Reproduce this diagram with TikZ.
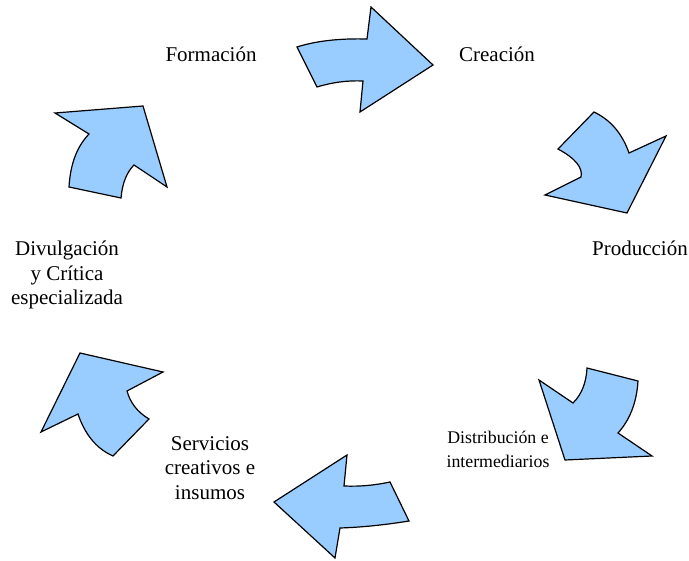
\documentclass[tikz,border=0pt]{standalone}
\usepackage{fontspec}
\setmainfont{Liberation Serif}
\usepackage{tikz}
\definecolor{celeste}{RGB}{153,204,255}
\tikzset{flecha/.style={draw=black, fill=celeste, line width=1.2pt, line join=miter},
%labels
etiqueta/.style={align=center, inner sep=0pt, font=\fontsize{21}{24.5}\selectfont},
etiquetachica/.style={etiqueta, font=\fontsize{17.8}{24}\selectfont}}

\begin{document}
\begin{tikzpicture}[x=1pt,y=-1pt]
\useasboundingbox (0,0) rectangle (689,561);

% arrows, clockwise from the top
\draw[flecha] (297,47) .. controls (315.7,41) and (339,38.3) .. (367,39) -- (371,7) -- (433,65)
  -- (360,112) -- (363,81) .. controls (347.7,80.3) and (332.3,82.3) .. (317,87) -- cycle;
\draw[flecha] (594,112) .. controls (610.7,120) and (622.3,133.7) .. (629,153) -- (666,136)
  -- (627,213) -- (545,195) -- (581,177) .. controls (583,167.7) and (575.3,158.3) .. (558,149) -- cycle;
\draw[flecha] (587,368) -- (638,381) .. controls (636.7,402.3) and (630,419.7) .. (618,433)
  -- (652,456) -- (565,460) -- (539,380) -- (573,403) .. controls (581.7,394.3) and (586.3,382.7) .. (587,368) -- cycle;
\draw[flecha] (347,455) -- (344,486) .. controls (359.3,486.7) and (374.7,485.3) .. (390,482) -- (409,521)
  .. controls (384.3,525) and (361.3,527.3) .. (340,528) -- (335,558) -- (274,502) -- cycle;
\draw[flecha] (80,353) -- (163,372) -- (127,391) .. controls (130.3,403) and (137.7,412.3) .. (149,419)
  -- (113,456) .. controls (96.3,448.7) and (84.7,434) .. (78,414) -- (41,432) -- cycle;
\draw[flecha] (55,113) -- (143,106) -- (167,187) -- (134,165) .. controls (126.7,172.3) and (122.3,183.3) .. (121,198)
  -- (69,187) .. controls (70.3,165) and (76.3,147.3) .. (89,134) -- cycle;

%labels
\node[etiqueta, anchor=base] (formacion) at (211,62) {Formación};
\node[etiqueta, anchor=base] (creacion) at (497,62) {Creación};
\node[etiqueta, anchor=base] (produccion) at (640,256) {Producción};
\node[etiquetachica] (distribucion) at (498,449) {Distribución e\\intermediarios};
\node[etiqueta] (servicios) at (210,468) {Servicios\\creativos e\\insumos};
\node[etiqueta] (divulgacion) at (67,275) {Divulgación\\y Crítica\\especializada};

\end{tikzpicture}
\end{document}
